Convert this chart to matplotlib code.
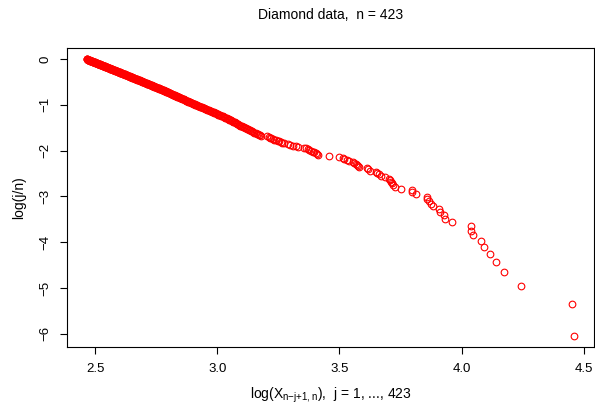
import numpy as np
import matplotlib
matplotlib.use("Agg")
import matplotlib.pyplot as plt

plt.rcParams['font.family'] = ['Liberation Sans', 'DejaVu Sans']
plt.rcParams['mathtext.fontset'] = 'custom'
plt.rcParams['mathtext.rm'] = 'Liberation Sans'

# log of the ordered diamond data, smallest first (j = n, ..., 1)
log_x_dense = [
    2.465, 2.467, 2.468, 2.469, 2.470, 2.471, 2.472, 2.473, 2.474, 2.475,
    2.476, 2.477, 2.479, 2.480, 2.481, 2.482, 2.483, 2.484, 2.485, 2.487,
    2.488, 2.489, 2.490, 2.491, 2.492, 2.493, 2.494, 2.495, 2.497, 2.498,
    2.499, 2.500, 2.502, 2.503, 2.504, 2.505, 2.506, 2.507, 2.508, 2.510,
    2.511, 2.512, 2.514, 2.515, 2.516, 2.517, 2.519, 2.520, 2.521, 2.523,
    2.524, 2.525, 2.526, 2.528, 2.529, 2.530, 2.531, 2.532, 2.534, 2.535,
    2.536, 2.537, 2.539, 2.540, 2.541, 2.543, 2.544, 2.545, 2.546, 2.548,
    2.549, 2.550, 2.552, 2.553, 2.555, 2.556, 2.557, 2.559, 2.560, 2.562,
    2.563, 2.564, 2.566, 2.567, 2.568, 2.569, 2.571, 2.572, 2.573, 2.575,
    2.576, 2.578, 2.579, 2.581, 2.582, 2.584, 2.585, 2.587, 2.588, 2.590,
    2.591, 2.592, 2.594, 2.595, 2.597, 2.598, 2.600, 2.601, 2.603, 2.604,
    2.605, 2.607, 2.608, 2.610, 2.612, 2.613, 2.615, 2.616, 2.618, 2.619,
    2.621, 2.622, 2.624, 2.625, 2.627, 2.628, 2.630, 2.631, 2.633, 2.634,
    2.636, 2.637, 2.639, 2.641, 2.642, 2.644, 2.645, 2.647, 2.648, 2.650,
    2.652, 2.653, 2.655, 2.656, 2.658, 2.660, 2.661, 2.663, 2.665, 2.666,
    2.668, 2.670, 2.671, 2.673, 2.675, 2.677, 2.679, 2.680, 2.682, 2.684,
    2.686, 2.688, 2.689, 2.691, 2.693, 2.695, 2.696, 2.698, 2.700, 2.701,
    2.703, 2.705, 2.707, 2.709, 2.711, 2.712, 2.714, 2.716, 2.718, 2.720,
    2.722, 2.724, 2.726, 2.728, 2.730, 2.731, 2.733, 2.735, 2.737, 2.739,
    2.741, 2.743, 2.745, 2.747, 2.749, 2.751, 2.753, 2.755, 2.757, 2.760,
    2.762, 2.763, 2.765, 2.767, 2.769, 2.771, 2.773, 2.775, 2.777, 2.779,
    2.781, 2.783, 2.785, 2.787, 2.789, 2.791, 2.793, 2.795, 2.797, 2.799,
    2.801, 2.803, 2.805, 2.807, 2.809, 2.811, 2.813, 2.815, 2.817, 2.820,
    2.822, 2.824, 2.826, 2.828, 2.830, 2.833, 2.835, 2.837, 2.839, 2.842,
    2.844, 2.846, 2.848, 2.851, 2.853, 2.855, 2.858, 2.860, 2.863, 2.866,
    2.868, 2.870, 2.872, 2.875, 2.877, 2.880, 2.882, 2.885, 2.887, 2.890,
    2.892, 2.895, 2.897, 2.900, 2.903, 2.906, 2.909, 2.911, 2.914, 2.917,
    2.920, 2.923, 2.926, 2.929, 2.932, 2.935, 2.938, 2.941, 2.944, 2.947,
    2.950, 2.953, 2.956, 2.959, 2.962, 2.965, 2.969, 2.972, 2.975, 2.979,
    2.982, 2.985, 2.988, 2.992, 2.995, 2.998, 3.002, 3.005, 3.009, 3.013,
    3.016, 3.019, 3.022, 3.026, 3.029, 3.032, 3.036, 3.039, 3.043, 3.047,
    3.050, 3.053, 3.056, 3.059, 3.062, 3.065, 3.068, 3.071, 3.075, 3.078,
    3.081, 3.084, 3.088, 3.091, 3.095, 3.098, 3.102, 3.105, 3.109, 3.113,
    3.117, 3.121, 3.125, 3.129, 3.134, 3.138, 3.143, 3.147, 3.152, 3.157,
    3.162, 3.166, 3.171,
]
log_x_mid = [
    3.175, 3.180, 3.205, 3.210, 3.214, 3.222, 3.227, 3.234, 3.241, 3.248,
    3.254, 3.260, 3.265, 3.275, 3.288, 3.298, 3.309, 3.323, 3.329, 3.357,
    3.364, 3.370, 3.377, 3.384, 3.391, 3.397, 3.404, 3.408, 3.411, 3.459,
    3.500, 3.513, 3.520, 3.529, 3.540, 3.554, 3.561, 3.568, 3.572, 3.577,
    3.582, 3.611, 3.618, 3.625, 3.649,
]
log_x_tail = [
    3.655, 3.663, 3.670, 3.685, 3.704, 3.708, 3.712, 3.717, 3.721, 3.727,
    3.754, 3.795, 3.799, 3.813, 3.858, 3.860, 3.867, 3.874, 3.883, 3.908,
    3.912, 3.929, 3.931, 3.962, 4.040, 4.040, 4.048, 4.078, 4.092, 4.116,
    4.140, 4.174, 4.244, 4.450, 4.462,
]

log_x = np.array(log_x_dense + log_x_mid + log_x_tail)
n = len(log_x)
j = np.arange(n, 0, -1)
log_p = np.log(j / n)

fig = plt.figure(figsize=(5.95, 4.04), dpi=100)
ax = fig.add_axes([67 / 595, 1 - 347 / 404, 527 / 595, 299 / 404])

ax.plot(log_x, log_p, linestyle='none', marker='o', markersize=4.8,
        markerfacecolor='none', markeredgecolor='red', markeredgewidth=0.8)

ax.margins(0.04)
ax.set_xticks([2.5, 3.0, 3.5, 4.0, 4.5])
ax.set_xticklabels(['2.5', '3.0', '3.5', '4.0', '4.5'])
ax.set_yticks([0, -1, -2, -3, -4, -5, -6])
ax.set_yticklabels(['0', '\u22121', '\u22122', '\u22123', '\u22124', '\u22125', '\u22126'])

for s in ax.spines.values():
    s.set_linewidth(0.8)
ax.tick_params(direction='out', length=5, width=0.8, labelsize=9.5, pad=6.5)
ax.tick_params(axis='y', labelrotation=90)
for lab in ax.get_yticklabels():
    lab.set_verticalalignment('center')

ax.set_title('Diamond data,  n = %d' % n, fontsize=10, pad=21)
ax.set_xlabel(r'log(X$_{\mathregular{n{-}j{+}1,n}}$),  j = 1, ..., %d' % n,
              fontsize=10, labelpad=8)
ax.set_ylabel('log(j/n)', fontsize=10, labelpad=9)

plt.savefig('out.png', dpi=100)
